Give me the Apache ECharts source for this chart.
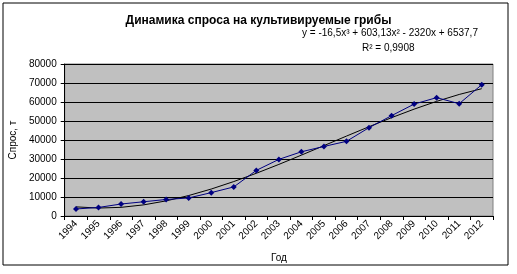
<!DOCTYPE html>
<html>
<head>
<meta charset="utf-8">
<style>
  html, body { margin: 0; padding: 0; background: #fff; }
  #container { width: 517px; height: 274px; }
</style>
<script src="https://cdn.jsdelivr.net/npm/echarts@6/dist/echarts.min.js"></script>
</head>
<body>
<div id="container"></div>
<script>
// годы
const years = ['1994', '1995', '1996', '1997', '1998', '1999', '2000', '2001', '2002', '2003',
  '2004', '2005', '2006', '2007', '2008', '2009', '2010', '2011', '2012'];
// спрос, т
const demand = [3700, 4500, 6300, 7500, 8700, 9500, 12300, 15300, 24000, 29800,
  33800, 36600, 39300, 46500, 52800, 58900, 62300, 59100, 69100];
// полиномиальный тренд (по уравнению на графике)
const trend = [4804, 4178, 4560, 5852, 7954, 10766, 14192, 18130, 22483, 27151,
  32035, 37036, 42056, 46995, 51755, 56235, 60338, 63964, 67014];
const yTicks = { min: 0, max: 80000, step: 10000 };
const eqText = 'y = -16,5x³ + 603,13x² - 2320x + 6537,7';
const r2Text = 'R² = 0,9908';

const FONT = 'Arial, "Liberation Sans", sans-serif';
let myChart = echarts.init(document.getElementById('container'));

let option = {
    backgroundColor: '#fff',
    animation: false,
    textStyle: { fontFamily: FONT },
    title: {
        text: 'Динамика спроса на культивируемые грибы',
        left: 'center',
        top: 10,
        textStyle: { fontSize: 12, fontWeight: 'bold', color: '#000', fontFamily: FONT }
    },
    graphic: [
        {
            type: 'rect',
            shape: { x: 3, y: 3, width: 505, height: 262 },
            style: { fill: null, stroke: '#000', lineWidth: 1 },
            silent: true
        },
        {
            type: 'text',
            left: 302, top: 28,
            style: { text: eqText, fontSize: 10, fill: '#000', fontFamily: FONT }
        },
        {
            type: 'text',
            left: 362, top: 43,
            style: { text: r2Text, fontSize: 10, fill: '#000', fontFamily: FONT }
        }
    ],
    grid: {
        left: 57,
        right: 24,
        top: 64,
        bottom: 58,
        show: true,
        backgroundColor: '#C0C0C0',
        borderColor: '#808080',
        borderWidth: 1
    },
    xAxis: {
        type: 'category',
        data: years,
        boundaryGap: true,
        name: 'Год',
        nameLocation: 'middle',
        nameGap: 37,
        nameTextStyle: { fontSize: 10, color: '#000', fontFamily: FONT },
        axisLine: { lineStyle: { color: '#000', width: 1 } },
        axisTick: { show: true, alignWithLabel: false, length: 4, lineStyle: { color: '#000' } },
        axisLabel: { rotate: 45, fontSize: 10, color: '#000', margin: 6, interval: 0, fontFamily: FONT },
        splitLine: { show: false }
    },
    yAxis: {
        type: 'value',
        min: yTicks.min,
        max: yTicks.max,
        interval: yTicks.step,
        name: 'Спрос, т',
        nameLocation: 'middle',
        nameGap: 41,
        nameTextStyle: { fontSize: 10, color: '#000', fontFamily: FONT },
        axisLine: { show: true, lineStyle: { color: '#000', width: 1 } },
        axisTick: { show: true, length: 4, lineStyle: { color: '#000' } },
        axisLabel: {
            fontSize: 10, color: '#000', margin: 8, fontFamily: FONT,
            formatter: function (value) { return String(value); }
        },
        splitLine: { show: true, lineStyle: { color: '#000', width: 1 } }
    },
    series: [
        {
            name: 'Спрос',
            type: 'line',
            data: demand,
            symbol: 'diamond',
            symbolSize: 6,
            itemStyle: { color: '#000080' },
            lineStyle: { color: '#000080', width: 1 },
            z: 3
        },
        {
            name: 'Тренд',
            type: 'line',
            data: trend,
            symbol: 'none',
            smooth: false,
            lineStyle: { color: '#000', width: 1 },
            z: 2
        }
    ]
};
myChart.setOption(option, true);
</script>
</body>
</html>
